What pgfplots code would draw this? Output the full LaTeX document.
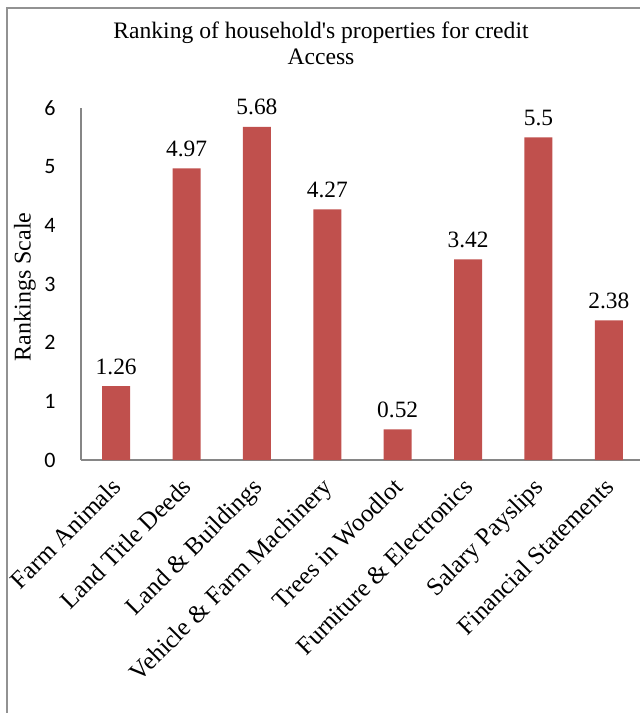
\documentclass[border=0pt]{standalone}
\usepackage{pgfplots}
\pgfplotsset{compat=1.18}
\usepackage{fontspec}
\setmainfont{Liberation Serif}
\newfontfamily\carlito{Carlito}
\definecolor{barred}{HTML}{C0504D}
\definecolor{axgray}{HTML}{868686}
\begin{document}
\begin{tikzpicture}[x=1pt,y=1pt]
\path[use as bounding box] (0,0) rectangle (640,713);
\draw[color=axgray!90, line width=1.5pt] (7,-5) -- (7,705) -- (650,705);
\node[font=\fontsize{23.6}{26}\selectfont, align=center] at (321,670) {Ranking of household\textquotesingle s properties for credit\\Access};
\node[font=\fontsize{24}{26}\selectfont, rotate=90] at (25,426) {Rankings Scale};
\begin{axis}[
  at={(81pt,253pt)}, anchor=south west,
  scale only axis, width=563pt, height=352pt,
  xmin=-0.5, xmax=7.5, ymin=0, ymax=6,
  clip=false,
  axis x line*=bottom, axis y line*=left,
  axis line style={color=axgray, line width=1.5pt},
  major tick length=0pt,
  ybar, bar width=28pt,
  /pgf/number format/assume math mode=true,
  xtick={0,...,7},
  xticklabels={Farm Animals, Land Title Deeds, Land \& Buildings, Vehicle \& Farm Machinery, Trees in Woodlot, Furniture \& Electronics, Salary Payslips, Financial Statements},
  xticklabel style={xshift=-6pt, yshift=-16pt, rotate=45, anchor=north east, inner sep=0pt, font=\fontsize{25}{27}\selectfont},
  ytick={0,...,6},
  yticklabel style={font=\carlito\fontsize{22}{24}\selectfont, xshift=-22pt},
  nodes near coords,
  nodes near coords style={font=\fontsize{23.4}{26}\selectfont, yshift=8pt},
]
\addplot[fill=barred, draw=none] coordinates {(0,1.26) (1,4.97) (2,5.68) (3,4.27) (4,0.52) (5,3.42) (6,5.5) (7,2.38)};
\end{axis}
\end{tikzpicture}
\end{document}
